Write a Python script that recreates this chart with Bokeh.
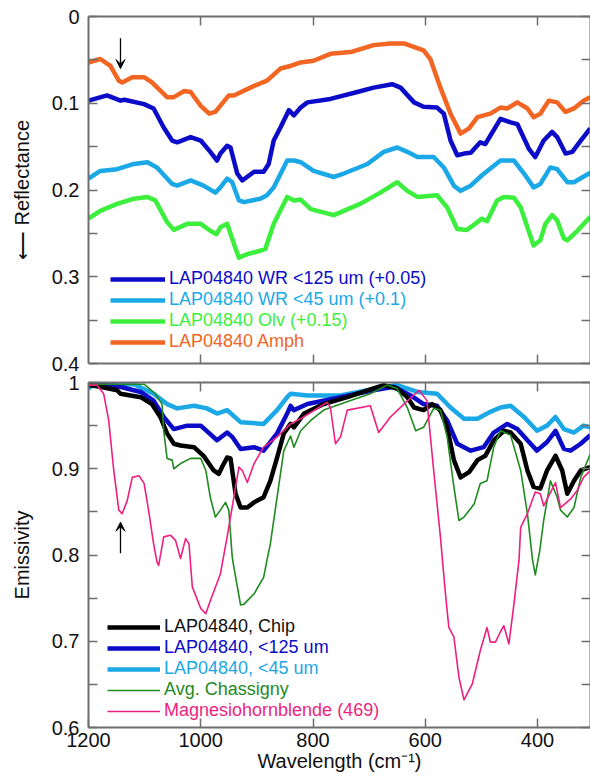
from bokeh.plotting import figure
from bokeh.layouts import column
from bokeh.models import (Range1d, LinearAxis, FixedTicker, CustomJSTickFormatter,
                          Legend, LegendItem, Arrow, VeeHead)
from bokeh.embed import file_html
from bokeh.resources import INLINE

# ---------------- data: reflectance (top panel) ----------------
amph_wl = [1200,1179,1161,1146,1140,1122,1101,1087,1060,1048,1030,1018,1000,985,974,950,941,905,882,858,840,822,799,769,733,692,662,638,603,591,573,555,537,522,507,484,466,454,436,418,407,395,380,365,350,335,318,306]
amph_r = [0.053,0.049,0.057,0.074,0.076,0.070,0.070,0.076,0.093,0.093,0.086,0.087,0.103,0.112,0.110,0.091,0.091,0.080,0.074,0.060,0.057,0.053,0.051,0.043,0.041,0.033,0.031,0.031,0.039,0.049,0.082,0.112,0.135,0.129,0.116,0.112,0.105,0.106,0.099,0.106,0.116,0.112,0.097,0.099,0.110,0.106,0.097,0.093]

wr125_wl = [1200,1167,1143,1136,1101,1084,1066,1051,1042,1018,1000,983,971,965,953,947,935,926,905,888,879,870,858,843,834,822,810,769,721,692,659,644,620,603,579,567,555,543,531,519,502,493,466,448,436,415,404,389,374,365,350,338,323,306]
wr125_r = [0.097,0.091,0.097,0.096,0.101,0.106,0.128,0.143,0.145,0.139,0.143,0.156,0.166,0.158,0.149,0.151,0.181,0.189,0.179,0.179,0.170,0.143,0.128,0.108,0.114,0.105,0.099,0.095,0.087,0.082,0.078,0.082,0.099,0.104,0.105,0.112,0.143,0.160,0.158,0.157,0.145,0.147,0.118,0.122,0.124,0.153,0.162,0.143,0.133,0.139,0.158,0.156,0.143,0.129]

wr45_wl = [1200,1179,1149,1119,1095,1078,1051,1042,1018,995,974,965,953,944,932,923,894,882,870,846,834,822,799,763,745,703,674,650,632,614,585,567,549,537,519,499,466,442,424,407,395,377,365,347,335,306]
wr45_r = [0.187,0.178,0.176,0.170,0.168,0.174,0.193,0.195,0.189,0.195,0.203,0.197,0.187,0.191,0.212,0.214,0.210,0.206,0.197,0.166,0.166,0.168,0.178,0.185,0.181,0.170,0.156,0.151,0.156,0.162,0.162,0.174,0.195,0.201,0.195,0.183,0.166,0.166,0.181,0.197,0.193,0.174,0.176,0.191,0.191,0.180]

olv_wl = [1200,1179,1149,1119,1095,1081,1060,1048,1024,1000,983,972,965,953,941,932,917,894,885,870,846,834,822,804,763,716,680,650,632,614,579,561,543,526,511,499,490,472,460,442,430,418,407,395,386,374,365,353,347,329,306]
olv_r = [0.233,0.224,0.216,0.210,0.208,0.212,0.237,0.246,0.239,0.239,0.247,0.251,0.243,0.239,0.262,0.278,0.274,0.270,0.268,0.239,0.208,0.212,0.211,0.222,0.229,0.216,0.203,0.191,0.201,0.208,0.206,0.220,0.245,0.246,0.239,0.233,0.236,0.212,0.208,0.209,0.220,0.243,0.264,0.258,0.239,0.229,0.235,0.256,0.258,0.247,0.231]

# ---------------- data: emissivity (bottom panel) ----------------
chip_wl = [1200,1179,1149,1143,1107,1087,1072,1060,1048,1036,1012,995,977,968,962,953,947,938,929,917,905,888,876,864,852,840,834,816,781,739,703,674,650,632,620,603,588,573,561,549,537,522,507,493,478,460,448,430,418,407,395,383,368,356,347,335,323,306]
chip_e = [0.997,0.995,0.991,0.987,0.983,0.975,0.960,0.941,0.929,0.927,0.925,0.915,0.898,0.894,0.902,0.913,0.912,0.871,0.855,0.855,0.861,0.867,0.886,0.913,0.941,0.952,0.948,0.964,0.975,0.983,0.991,0.997,0.993,0.983,0.971,0.968,0.975,0.968,0.948,0.910,0.890,0.896,0.910,0.915,0.933,0.944,0.942,0.929,0.898,0.879,0.877,0.898,0.915,0.898,0.871,0.886,0.898,0.902]

e125_wl = [1200,1149,1107,1084,1066,1048,1024,1000,971,953,944,929,905,888,864,846,840,834,810,751,692,656,626,603,579,561,543,519,496,478,454,436,418,401,383,368,353,341,323,306]
e125_e = [0.998,0.996,0.989,0.979,0.960,0.946,0.950,0.950,0.933,0.942,0.937,0.923,0.925,0.921,0.941,0.964,0.973,0.968,0.975,0.983,0.991,0.995,0.985,0.975,0.973,0.956,0.929,0.921,0.925,0.942,0.952,0.946,0.933,0.921,0.931,0.944,0.923,0.921,0.929,0.939]

e45_wl = [1200,1190,1119,1084,1060,1042,1012,989,971,953,929,888,864,846,840,810,751,703,650,614,579,555,531,507,484,466,448,424,401,383,368,353,335,318,306]
e45_e = [0.993,0.998,0.998,0.987,0.975,0.970,0.973,0.970,0.964,0.968,0.954,0.952,0.968,0.983,0.987,0.985,0.985,0.991,0.997,0.989,0.987,0.971,0.958,0.958,0.966,0.971,0.973,0.960,0.944,0.950,0.960,0.946,0.942,0.950,0.948]

chas_wl = [1200,1101,1081,1069,1066,1060,1051,1048,1036,1018,1000,991,983,974,965,956,950,944,941,929,923,905,888,882,876,864,852,840,834,822,804,781,733,698,668,650,632,617,603,585,573,561,549,540,531,513,502,490,478,466,448,430,418,409,404,396,389,377,365,359,347,335,323,306]
chas_e = [0.998,0.998,0.987,0.975,0.944,0.912,0.910,0.900,0.906,0.912,0.912,0.898,0.867,0.844,0.852,0.861,0.852,0.798,0.786,0.742,0.743,0.755,0.774,0.794,0.813,0.867,0.921,0.938,0.925,0.944,0.956,0.968,0.979,0.987,0.997,0.993,0.971,0.944,0.948,0.970,0.968,0.937,0.879,0.840,0.844,0.859,0.883,0.886,0.925,0.944,0.939,0.898,0.848,0.795,0.777,0.805,0.840,0.886,0.867,0.852,0.844,0.855,0.890,0.917]

mhb_wl = [1200,1185,1173,1164,1155,1146,1140,1131,1122,1110,1101,1093,1084,1078,1075,1066,1054,1045,1036,1027,1021,1015,1000,991,983,965,953,941,932,926,917,905,888,864,840,822,775,769,760,751,739,698,683,662,638,611,597,585,573,564,558,549,540,531,516,502,490,484,475,466,460,451,442,433,430,418,404,395,389,368,359,341,329,318,306]
mhb_e = [0.997,0.997,0.987,0.956,0.898,0.852,0.848,0.863,0.890,0.892,0.883,0.852,0.813,0.792,0.788,0.821,0.823,0.817,0.796,0.819,0.813,0.763,0.738,0.732,0.747,0.778,0.821,0.867,0.902,0.898,0.884,0.906,0.925,0.937,0.952,0.958,0.977,0.971,0.929,0.937,0.968,0.973,0.942,0.960,0.975,0.991,0.979,0.898,0.821,0.755,0.716,0.705,0.658,0.632,0.651,0.689,0.716,0.699,0.699,0.711,0.718,0.697,0.743,0.794,0.832,0.848,0.873,0.871,0.857,0.884,0.855,0.865,0.875,0.890,0.898]

# ticks
x_ticks_top = [1000, 800, 600, 400]
x_ticks_bottom = [1200, 1000, 800, 600, 400]
refl_ticks = [0, 0.1, 0.2, 0.3, 0.4]
refl_minor = [0.05, 0.15, 0.25, 0.35]
emis_ticks = [0.6, 0.7, 0.8, 0.9, 1.0]
emis_minor = [0.65, 0.75, 0.85, 0.95]

# annotated feature (arrows)
feature_wl = 1143

FONT = "Liberation Sans"
AXC = "#6e6e6e"
X_END = 305.6

C_ORANGE = "#F26522"
C_BLUE = "#0B0BC8"
C_LBLUE = "#1BA8E6"
C_GREEN = "#3CEF3C"
C_DKGREEN = "#1F8A1F"
C_PINK = "#EE1F80"

fmt = CustomJSTickFormatter(code="return String(Math.round(tick*100)/100)")


def style_axis(ax, ticker, labels, formatter=None):
    ax.ticker = ticker
    ax.axis_line_color = AXC
    ax.axis_line_width = 2
    ax.major_tick_line_color = AXC
    ax.major_tick_line_width = 1.5
    ax.major_tick_in = 9
    ax.major_tick_out = 0
    ax.minor_tick_line_color = AXC
    ax.minor_tick_line_width = 1.5
    ax.minor_tick_in = 9
    ax.minor_tick_out = 0
    if formatter is not None:
        ax.formatter = formatter
    if labels:
        ax.major_label_text_font = FONT
        ax.major_label_text_font_size = "20px"
        ax.major_label_text_color = "#111111"
    else:
        ax.major_label_text_font_size = "0px"
        ax.major_label_standoff = 0


def style_label(ax, text, standoff):
    ax.axis_label = text
    ax.axis_label_text_font = FONT
    ax.axis_label_text_font_size = "20px"
    ax.axis_label_text_font_style = "normal"
    ax.axis_label_text_color = "#111111"
    ax.axis_label_standoff = standoff


def add_legend(p, renderer, label, color, x, y, glyph_w):
    leg = Legend(items=[LegendItem(label=label, renderers=[renderer])],
                 location=(x, y), margin=0, padding=0, spacing=0,
                 glyph_width=glyph_w, glyph_height=20, label_height=20,
                 label_standoff=4, label_text_font=FONT,
                 label_text_font_size="18px", label_text_color=color,
                 background_fill_alpha=0, border_line_color=None)
    p.add_layout(leg)


# ---------------- top panel ----------------
p1 = figure(width=590, height=374, x_range=Range1d(1200, X_END), y_range=Range1d(0.4, 0),
            output_backend="svg", toolbar_location=None,
            min_border_left=88, min_border_right=0, min_border_top=16, min_border_bottom=11)
p1.grid.visible = False
p1.outline_line_color = None
p1.background_fill_color = "white"

style_axis(p1.yaxis[0], FixedTicker(ticks=refl_ticks, minor_ticks=refl_minor), True, fmt)
p1.yaxis[0].major_label_standoff = 9
style_label(p1.yaxis[0], "\u27f5 Reflectance", 16)
style_axis(p1.xaxis[0], FixedTicker(ticks=x_ticks_top), False)
ax_r1 = LinearAxis()
style_axis(ax_r1, FixedTicker(ticks=refl_ticks, minor_ticks=refl_minor), False)
p1.add_layout(ax_r1, "right")
ax_t1 = LinearAxis()
style_axis(ax_t1, FixedTicker(ticks=x_ticks_top), False)
p1.add_layout(ax_t1, "above")

r_amph = p1.line(amph_wl, amph_r, line_color=C_ORANGE, line_width=4.5, line_join="round")
r_125 = p1.line(wr125_wl, wr125_r, line_color=C_BLUE, line_width=4.5, line_join="round")
r_45 = p1.line(wr45_wl, wr45_r, line_color=C_LBLUE, line_width=4.5, line_join="round")
r_olv = p1.line(olv_wl, olv_r, line_color=C_GREEN, line_width=4.5, line_join="round")

add_legend(p1, r_125, "LAP04840 WR <125 um (+0.05)", C_BLUE, 22, 74, 55)
add_legend(p1, r_45, "LAP04840 WR <45 um (+0.1)", C_LBLUE, 22, 53, 55)
add_legend(p1, r_olv, "LAP04840 Olv (+0.15)", C_GREEN, 22, 32, 55)
add_legend(p1, r_amph, "LAP04840 Amph", C_ORANGE, 22, 11, 55)

p1.add_layout(Arrow(end=VeeHead(size=9, fill_color="black", line_color="black", line_width=1),
                    x_start=feature_wl, y_start=0.025, x_end=feature_wl, y_end=0.060,
                    line_color="black", line_width=1.3))

# ---------------- bottom panel ----------------
p2 = figure(width=590, height=404, x_range=p1.x_range, y_range=Range1d(0.6, 1.0),
            output_backend="svg", toolbar_location=None,
            min_border_left=88, min_border_right=0, min_border_top=8, min_border_bottom=51)
p2.grid.visible = False
p2.outline_line_color = None
p2.background_fill_color = "white"

style_axis(p2.yaxis[0], FixedTicker(ticks=emis_ticks, minor_ticks=emis_minor), True, fmt)
p2.yaxis[0].major_label_standoff = 9
style_label(p2.yaxis[0], "Emissivity", 16)
style_axis(p2.xaxis[0], FixedTicker(ticks=x_ticks_bottom), True)
p2.xaxis[0].major_label_standoff = 5
style_label(p2.xaxis[0], "Wavelength (cm\u207b\u00b9)", 0)
ax_r2 = LinearAxis()
style_axis(ax_r2, FixedTicker(ticks=emis_ticks, minor_ticks=emis_minor), False)
p2.add_layout(ax_r2, "right")
ax_t2 = LinearAxis()
style_axis(ax_t2, FixedTicker(ticks=x_ticks_top), False)
p2.add_layout(ax_t2, "above")

e_45 = p2.line(e45_wl, e45_e, line_color=C_LBLUE, line_width=4.5, line_join="round")
e_125 = p2.line(e125_wl, e125_e, line_color=C_BLUE, line_width=4.5, line_join="round")
e_chip = p2.line(chip_wl, chip_e, line_color="black", line_width=4.5, line_join="round")
e_chas = p2.line(chas_wl, chas_e, line_color=C_DKGREEN, line_width=1.6, line_join="round")
e_mhb = p2.line(mhb_wl, mhb_e, line_color=C_PINK, line_width=1.6, line_join="round")

add_legend(p2, e_chip, "LAP04840, Chip", "#111111", 19, 90, 53)
add_legend(p2, e_125, "LAP04840, <125 um", C_BLUE, 19, 69, 53)
add_legend(p2, e_45, "LAP04840, <45 um", C_LBLUE, 19, 48, 53)
add_legend(p2, e_chas, "Avg. Chassigny", C_DKGREEN, 19, 27, 53)
add_legend(p2, e_mhb, "Magnesiohornblende (469)", C_PINK, 19, 6, 53)

p2.add_layout(Arrow(end=VeeHead(size=9, fill_color="black", line_color="black", line_width=1),
                    x_start=feature_wl, y_start=0.802, x_end=feature_wl, y_end=0.838,
                    line_color="black", line_width=1.3))

layout = column(p1, p2, spacing=0)
open("out.html", "w").write(file_html(layout, INLINE))
